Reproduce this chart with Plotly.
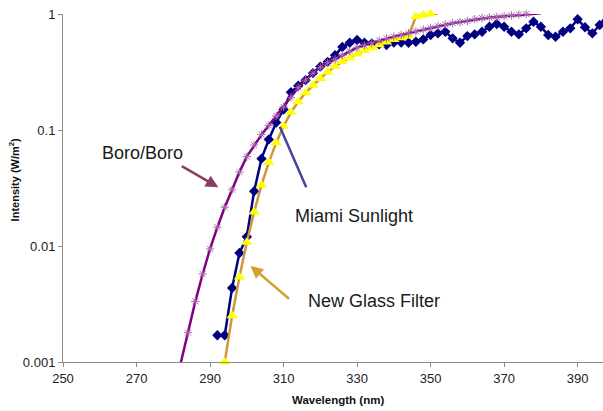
import plotly.graph_objects as go

# ---------------- data ----------------
miami_wl = [292, 294, 296, 298, 300, 302, 304, 306, 308, 310, 312, 314, 316, 318, 320,
            322, 324, 326, 328, 330, 332, 334, 336, 338, 340, 342, 344, 346, 348, 350,
            352, 354, 356, 358, 360, 362, 364, 366, 368, 370, 372, 374, 376, 378, 380,
            382, 384, 386, 388, 390, 392, 394, 396, 398]
miami_val = [0.0017, 0.0017, 0.00434, 0.0087, 0.0120, 0.0297, 0.0566, 0.083, 0.116, 0.150,
             0.212, 0.241, 0.269, 0.309, 0.352, 0.387, 0.442, 0.519, 0.565, 0.596,
             0.565, 0.558, 0.547, 0.540, 0.567, 0.567, 0.565, 0.576, 0.604, 0.659,
             0.681, 0.703, 0.617, 0.565, 0.645, 0.668, 0.703, 0.777, 0.820, 0.777,
             0.703, 0.668, 0.752, 0.858, 0.777, 0.659, 0.637, 0.703, 0.752, 0.900,
             0.768, 0.681, 0.803, 0.98]

boro_wl = [282, 284, 286, 288, 290, 292, 294, 296, 298, 300, 302, 304, 306, 308, 310,
           312, 314, 316, 318, 320, 322, 324, 326, 328, 330, 332, 334, 336, 338, 340,
           342, 344, 346, 348, 350, 352, 354, 356, 358, 360, 362, 364, 366, 368, 370,
           372, 374, 376, 378, 380, 384, 386]
boro_val = [0.00097, 0.00179, 0.00333, 0.00574, 0.00944, 0.01452, 0.0216, 0.0305, 0.0434,
            0.0589, 0.0741, 0.0912, 0.1096, 0.132, 0.158, 0.191, 0.232, 0.269, 0.309,
            0.347, 0.380, 0.407, 0.442, 0.479, 0.513, 0.537, 0.562, 0.589, 0.617, 0.638,
            0.661, 0.684, 0.708, 0.733, 0.759, 0.785, 0.813, 0.832, 0.851, 0.871, 0.902,
            0.923, 0.933, 0.944, 0.955, 0.973, 0.989, 1.0, 1.009, 1.014, 1.03, 1.03]

glass_wl = [294, 296, 298, 300, 302, 304, 306, 308, 310, 312, 314, 316, 318, 320, 322,
            324, 326, 328, 330, 332, 334, 336, 338, 340, 342, 344, 346, 348, 350, 352]
glass_val = [0.001, 0.0025, 0.0054, 0.01076, 0.0196, 0.0336, 0.0526, 0.0778, 0.1076, 0.142,
             0.175, 0.209, 0.243, 0.278, 0.317, 0.355, 0.389, 0.42, 0.452, 0.484,
             0.513, 0.543, 0.575, 0.603, 0.624, 0.646, 0.948, 0.98, 1.0, 1.01]

x_ticks = [250, 270, 290, 310, 330, 350, 370, 390]
y_ticks = [0.001, 0.01, 0.1, 1]
y_tick_text = ["0.001", "0.01", "0.1", "1"]

FONT = "Liberation Sans, Arial, sans-serif"
NAVY = "#000080"
PURPLE = "#800080"
BORO_MARK = "#A868B0"
GOLD_LINE = "#D0963A"
YELLOW = "#FFFF00"

fig = go.Figure()

# Miami Sunlight
fig.add_trace(go.Scatter(x=miami_wl, y=miami_val, mode="lines+markers",
                         line=dict(color=NAVY, width=2.5),
                         marker=dict(symbol="diamond", size=8, color=NAVY),
                         cliponaxis=False, name="Miami Sunlight"))
# New Glass Filter
fig.add_trace(go.Scatter(x=glass_wl, y=glass_val, mode="lines",
                         line=dict(color=GOLD_LINE, width=2.5), name="New Glass Filter"))
fig.add_trace(go.Scatter(x=glass_wl, y=glass_val, mode="markers",
                         marker=dict(symbol="triangle-up", size=10, color=YELLOW,
                                     line=dict(width=0)),
                         cliponaxis=False, showlegend=False))
# Boro/Boro
fig.add_trace(go.Scatter(x=boro_wl[:-2], y=boro_val[:-2], mode="lines",
                         line=dict(color=PURPLE, width=2.5), name="Boro/Boro"))
fig.add_trace(go.Scatter(x=boro_wl[1:], y=boro_val[1:], mode="markers",
                         marker=dict(symbol="asterisk-open", size=7, color=BORO_MARK,
                                     line=dict(color=BORO_MARK, width=1)),
                         cliponaxis=False, showlegend=False))

axis_common = dict(showgrid=False, zeroline=False, showline=True, linecolor="#8c8c8c",
                   linewidth=1, ticks="outside", ticklen=4, tickcolor="#8c8c8c",
                   tickfont=dict(family=FONT, size=13, color="#222222"))

fig.update_xaxes(range=[250, 396.9], tickvals=x_ticks, **axis_common)
fig.update_yaxes(type="log", range=[-3, 0], tickvals=y_ticks, ticktext=y_tick_text,
                 **axis_common)

annotations = [
    # axis titles
    dict(text="<b>Wavelength (nm)</b>", xref="paper", yref="paper", x=0.509, y=-0.11,
         showarrow=False, font=dict(family=FONT, size=11.5, color="#111111"),
         xanchor="center", yanchor="middle"),
    dict(text="<b>Intensity (W/m<sup>2</sup>)</b>", xref="paper", yref="paper",
         x=-0.09, y=0.523, textangle=-90, showarrow=False,
         font=dict(family=FONT, size=11, color="#111111"),
         xanchor="center", yanchor="middle"),
    # labels
    dict(text="Boro/Boro", x=271.5, y=-1.198, xref="x", yref="y", showarrow=False,
         font=dict(family=FONT, size=18, color="#1a1a1a")),
    dict(text="Miami Sunlight", x=329.2, y=-1.741, xref="x", yref="y", showarrow=False,
         font=dict(family=FONT, size=18, color="#1a1a1a")),
    dict(text="New Glass Filter", x=334.6, y=-2.474, xref="x", yref="y", showarrow=False,
         font=dict(family=FONT, size=18, color="#1a1a1a")),
    # pointers
    dict(text="", x=292.25, y=-1.494, xref="x", yref="y", ax=-38, ay=-22,
         showarrow=True, arrowhead=2, arrowsize=1, arrowwidth=2.5, arrowcolor="#8C3C66"),
    dict(text="", x=309.0, y=-0.972, xref="x", yref="y", ax=27, ay=62,
         showarrow=True, arrowhead=0, arrowwidth=2.5, arrowcolor="#4545A0"),
    dict(text="", x=301.0, y=-2.172, xref="x", yref="y", ax=40, ay=34,
         showarrow=True, arrowhead=2, arrowsize=1, arrowwidth=2.5, arrowcolor="#D4A030"),
]

fig.update_layout(width=603, height=411, margin=dict(l=63, r=0, t=14, b=49),
                  plot_bgcolor="white", paper_bgcolor="white", showlegend=False,
                  font=dict(family=FONT), annotations=annotations)

fig.write_html("out.html")
